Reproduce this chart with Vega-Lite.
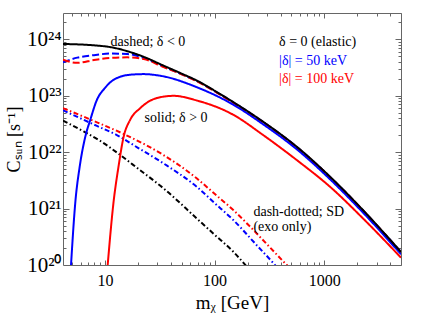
{
  "$schema": "https://vega.github.io/schema/vega-lite/v6.json",
  "width": 338,
  "height": 252,
  "autosize": "none",
  "padding": {"left": 63, "top": 13, "right": 20, "bottom": 51},
  "background": "white",
  "config": {"view": {"stroke": "#666", "strokeWidth": 1}, "font": "Liberation Serif"},
  "datasets": {
    "curves": [
      {"d":"0","t":"dashdot","m":4.15,"C":3.6e22},{"d":"0","t":"dashdot","m":6.4,"C":2.32e22},{"d":"0","t":"dashdot","m":9,"C":1.59e22},{"d":"0","t":"dashdot","m":13.8,"C":8.85e21},{"d":"0","t":"dashdot","m":20,"C":5.1e21},{"d":"0","t":"dashdot","m":34.2,"C":2.28e21},{"d":"0","t":"dashdot","m":68.6,"C":6.7e20},{"d":"0","t":"dashdot","m":100,"C":3.44e20},{"d":"0","t":"dashdot","m":148,"C":1.72e20},{"d":"0","t":"dashdot","m":200,"C":9e19},
      {"d":"50","t":"dashdot","m":4.15,"C":5.5e22},{"d":"50","t":"dashdot","m":8.46,"C":2.9e22},{"d":"50","t":"dashdot","m":12.85,"C":2.0e22},{"d":"50","t":"dashdot","m":20,"C":1.19e22},{"d":"50","t":"dashdot","m":34.2,"C":6.3e21},{"d":"50","t":"dashdot","m":68.6,"C":2.43e21},{"d":"50","t":"dashdot","m":100,"C":1.25e21},{"d":"50","t":"dashdot","m":148,"C":6.26e20},{"d":"50","t":"dashdot","m":250,"C":2.09e20},{"d":"50","t":"dashdot","m":344,"C":1.07e20},{"d":"50","t":"dashdot","m":380,"C":8.5e19},
      {"d":"100","t":"dashdot","m":4.15,"C":6.0e22},{"d":"100","t":"dashdot","m":8.46,"C":3.36e22},{"d":"100","t":"dashdot","m":15.3,"C":2.03e22},{"d":"100","t":"dashdot","m":34.2,"C":8.85e21},{"d":"100","t":"dashdot","m":68.6,"C":3.43e21},{"d":"100","t":"dashdot","m":100,"C":1.82e21},{"d":"100","t":"dashdot","m":148,"C":9.4e20},{"d":"100","t":"dashdot","m":211,"C":4.76e20},{"d":"100","t":"dashdot","m":300,"C":2.33e20},{"d":"100","t":"dashdot","m":455,"C":1e20},{"d":"100","t":"dashdot","m":500,"C":8.3e19},
      {"d":"50","t":"dashed","m":4.15,"C":3.9e23},{"d":"50","t":"dashed","m":5.6,"C":4.7e23},{"d":"50","t":"dashed","m":7.94,"C":5.2e23},{"d":"50","t":"dashed","m":11.3,"C":5.55e23},{"d":"50","t":"dashed","m":16,"C":5.45e23},{"d":"50","t":"dashed","m":22.6,"C":4.65e23},{"d":"50","t":"dashed","m":33,"C":3.38e23},{"d":"50","t":"dashed","m":50,"C":2.4e23},{"d":"50","t":"dashed","m":68.6,"C":1.82e23},{"d":"50","t":"dashed","m":100,"C":1.2e23},{"d":"50","t":"dashed","m":148,"C":7.55e22},{"d":"50","t":"dashed","m":277,"C":3.4e22},{"d":"50","t":"dashed","m":561,"C":1.23e22},{"d":"50","t":"dashed","m":1127,"C":3.63e21},{"d":"50","t":"dashed","m":2249,"C":9.3e20},{"d":"50","t":"dashed","m":5000,"C":1.69e20},
      {"d":"100","t":"dashed","m":4.15,"C":4.3e23},{"d":"100","t":"dashed","m":5.6,"C":3.8e23},{"d":"100","t":"dashed","m":7.94,"C":4.25e23},{"d":"100","t":"dashed","m":11.3,"C":4.65e23},{"d":"100","t":"dashed","m":16,"C":4.75e23},{"d":"100","t":"dashed","m":22.6,"C":4.45e23},{"d":"100","t":"dashed","m":33,"C":3.3e23},{"d":"100","t":"dashed","m":50,"C":2.38e23},{"d":"100","t":"dashed","m":68.6,"C":1.8e23},{"d":"100","t":"dashed","m":100,"C":1.19e23},{"d":"100","t":"dashed","m":148,"C":7.45e22},{"d":"100","t":"dashed","m":277,"C":3.38e22},{"d":"100","t":"dashed","m":561,"C":1.22e22},{"d":"100","t":"dashed","m":1127,"C":3.6e21},{"d":"100","t":"dashed","m":2249,"C":9.25e20},{"d":"100","t":"dashed","m":5000,"C":1.68e20},
      {"d":"100","t":"solid","m":10.6,"C":1.0e20},{"d":"100","t":"solid","m":12,"C":1.32e21},{"d":"100","t":"solid","m":13.3,"C":5.5e21},{"d":"100","t":"solid","m":14.8,"C":1.85e22},{"d":"100","t":"solid","m":17,"C":3.73e22},{"d":"100","t":"solid","m":21,"C":6.0e22},{"d":"100","t":"solid","m":29.7,"C":9.04e22},{"d":"100","t":"solid","m":42.2,"C":9.9e22},{"d":"100","t":"solid","m":68.6,"C":8.2e22},{"d":"100","t":"solid","m":148,"C":4.57e22},{"d":"100","t":"solid","m":277,"C":2.0e22},{"d":"100","t":"solid","m":561,"C":7.21e21},{"d":"100","t":"solid","m":1127,"C":2.43e21},{"d":"100","t":"solid","m":2249,"C":6.7e20},{"d":"100","t":"solid","m":5000,"C":1.35e20},
      {"d":"50","t":"solid","m":4.91,"C":1.0e20},{"d":"50","t":"solid","m":5.38,"C":1.32e21},{"d":"50","t":"solid","m":5.89,"C":5.5e21},{"d":"50","t":"solid","m":6.64,"C":1.9e22},{"d":"50","t":"solid","m":7.36,"C":3.73e22},{"d":"50","t":"solid","m":8.46,"C":8.43e22},{"d":"50","t":"solid","m":10,"C":1.36e23},{"d":"50","t":"solid","m":12,"C":1.9e23},{"d":"50","t":"solid","m":17,"C":2.34e23},{"d":"50","t":"solid","m":22.5,"C":2.4e23},{"d":"50","t":"solid","m":34.2,"C":2.19e23},{"d":"50","t":"solid","m":68.6,"C":1.41e23},{"d":"50","t":"solid","m":148,"C":6.9e22},{"d":"50","t":"solid","m":277,"C":3.1e22},{"d":"50","t":"solid","m":561,"C":1.12e22},{"d":"50","t":"solid","m":1127,"C":3.3e21},{"d":"50","t":"solid","m":2249,"C":8.5e20},{"d":"50","t":"solid","m":5000,"C":1.55e20},
      {"d":"0","t":"solid","m":4.15,"C":8.2e23},{"d":"0","t":"solid","m":8,"C":7.75e23},{"d":"0","t":"solid","m":11.3,"C":7.2e23},{"d":"0","t":"solid","m":16.5,"C":6.0e23},{"d":"0","t":"solid","m":22.6,"C":4.85e23},{"d":"0","t":"solid","m":33,"C":3.5e23},{"d":"0","t":"solid","m":50,"C":2.45e23},{"d":"0","t":"solid","m":68.6,"C":1.85e23},{"d":"0","t":"solid","m":100,"C":1.22e23},{"d":"0","t":"solid","m":148,"C":7.67e22},{"d":"0","t":"solid","m":277,"C":3.44e22},{"d":"0","t":"solid","m":561,"C":1.24e22},{"d":"0","t":"solid","m":1127,"C":3.66e21},{"d":"0","t":"solid","m":2249,"C":9.4e20},{"d":"0","t":"solid","m":5000,"C":1.7e20}
    ],
    "notes": [
      {"d":"0","m":11.27,"C":8.75e23,"label":"dashed; δ < 0"},
      {"d":"0","m":22.96,"C":4.0e22,"label":"solid; δ > 0"},
      {"d":"0","m":226,"C":8.77e20,"label":"dash-dotted; SD"},
      {"d":"0","m":226,"C":4.76e20,"label":"(exo only)"}
    ],
    "keys": [
      {"d":"0","m":387,"C":8.96e23,"label":"δ = 0 (elastic)"},
      {"d":"50","m":387,"C":4.08e23,"label":"|δ| = 50 keV"},
      {"d":"100","m":387,"C":1.94e23,"label":"|δ| = 100 keV"}
    ]
  },
  "layer": [
    {
      "data": {"name": "curves"},
      "mark": {"type": "line", "strokeWidth": 2, "clip": true, "interpolate": "monotone"},
      "encoding": {
        "x": {"field": "m", "type": "quantitative",
          "scale": {"type": "log", "domain": [4.15, 5000], "nice": false},
          "axis": {"orient": "bottom", "values": [10, 100, 1000], "format": "d", "ticks": false, "domain": false, "grid": false,
            "labelFont": "Liberation Serif", "labelFontSize": 16, "labelColor": "#000", "labelPadding": 7,
            "title": "mᵪ [GeV]", "titleFont": "Liberation Serif", "titleFontSize": 19, "titleFontWeight": "normal", "titleColor": "#000", "titlePadding": 5}},
        "y": {"field": "C", "type": "quantitative",
          "scale": {"type": "log", "domain": [1e20, 2.9e24], "nice": false},
          "axis": {"orient": "left", "values": [1e20, 1e21, 1e22, 1e23, 1e24], "ticks": false, "domain": false, "grid": false,
            "labelExpr": "datum.value < 5e20 ? '10²⁰' : datum.value < 5e21 ? '10²¹' : datum.value < 5e22 ? '10²²' : datum.value < 5e23 ? '10²³' : '10²⁴'",
            "labelFont": "Liberation Serif", "labelFontSize": 21, "labelColor": "#000", "labelPadding": 2,
            "title": "Cₛᵤₙ [s⁻¹]", "titleFont": "Liberation Serif", "titleFontSize": 18, "titleFontWeight": "normal", "titleColor": "#000", "titlePadding": 3}},
        "color": {"field": "d", "type": "nominal", "scale": {"domain": ["0", "50", "100"], "range": ["#000000", "#0000ff", "#ff0000"]}, "legend": null},
        "strokeDash": {"field": "t", "type": "nominal", "scale": {"domain": ["solid", "dashed", "dashdot"], "range": [[1, 0], [7, 3], [5, 2.5, 1.5, 2.5]]}, "legend": null}
      }
    },
    {
      "data": {"name": "notes"},
      "mark": {"type": "text", "align": "left", "baseline": "middle", "font": "Liberation Serif", "fontSize": 14},
      "encoding": {
        "x": {"field": "m", "type": "quantitative", "scale": {"type": "log", "domain": [4.15, 5000], "nice": false},
          "axis": {"orient": "bottom", "values": [5,6,7,8,9,10,20,30,40,50,60,70,80,90,100,200,300,400,500,600,700,800,900,1000,2000,3000,4000,5000],
            "labels": false, "domain": false, "grid": false, "title": null, "tickColor": "#666", "tickWidth": 1,
            "tickSize": {"condition": {"test": "abs(log(datum.value)/LN10 - round(log(datum.value)/LN10)) < 0.001", "value": -5}, "value": -3}}},
        "y": {"field": "C", "type": "quantitative", "scale": {"type": "log", "domain": [1e20, 2.9e24], "nice": false},
          "axis": {"orient": "left", "values": [2e20,3e20,4e20,5e20,6e20,7e20,8e20,9e20,1e21,2e21,3e21,4e21,5e21,6e21,7e21,8e21,9e21,1e22,2e22,3e22,4e22,5e22,6e22,7e22,8e22,9e22,1e23,2e23,3e23,4e23,5e23,6e23,7e23,8e23,9e23,1e24,2e24],
            "labels": false, "domain": false, "grid": false, "title": null, "tickColor": "#666", "tickWidth": 1,
            "tickSize": {"condition": {"test": "abs(log(datum.value)/LN10 - round(log(datum.value)/LN10)) < 0.001", "value": -6}, "value": -3}}},
        "text": {"field": "label"},
        "color": {"field": "d", "type": "nominal", "scale": {"domain": ["0", "50", "100"], "range": ["#000000", "#0000ff", "#ff0000"]}, "legend": null}
      }
    },
    {
      "data": {"name": "keys"},
      "mark": {"type": "text", "align": "left", "baseline": "middle", "font": "Liberation Serif", "fontSize": 14},
      "encoding": {
        "x": {"field": "m", "type": "quantitative", "scale": {"type": "log", "domain": [4.15, 5000], "nice": false},
          "axis": {"orient": "top", "values": [5,6,7,8,9,10,20,30,40,50,60,70,80,90,100,200,300,400,500,600,700,800,900,1000,2000,3000,4000,5000],
            "labels": false, "domain": false, "grid": false, "title": null, "tickColor": "#666", "tickWidth": 1,
            "tickSize": {"condition": {"test": "abs(log(datum.value)/LN10 - round(log(datum.value)/LN10)) < 0.001", "value": -5}, "value": -3}}},
        "y": {"field": "C", "type": "quantitative", "scale": {"type": "log", "domain": [1e20, 2.9e24], "nice": false},
          "axis": {"orient": "right", "values": [2e20,3e20,4e20,5e20,6e20,7e20,8e20,9e20,1e21,2e21,3e21,4e21,5e21,6e21,7e21,8e21,9e21,1e22,2e22,3e22,4e22,5e22,6e22,7e22,8e22,9e22,1e23,2e23,3e23,4e23,5e23,6e23,7e23,8e23,9e23,1e24,2e24],
            "labels": false, "domain": false, "grid": false, "title": null, "tickColor": "#666", "tickWidth": 1,
            "tickSize": {"condition": {"test": "abs(log(datum.value)/LN10 - round(log(datum.value)/LN10)) < 0.001", "value": -6}, "value": -3}}},
        "text": {"field": "label"},
        "color": {"field": "d", "type": "nominal", "scale": {"domain": ["0", "50", "100"], "range": ["#000000", "#0000ff", "#ff0000"]}, "legend": null}
      }
    }
  ],
  "resolve": {"axis": {"x": "independent", "y": "independent"}}
}
